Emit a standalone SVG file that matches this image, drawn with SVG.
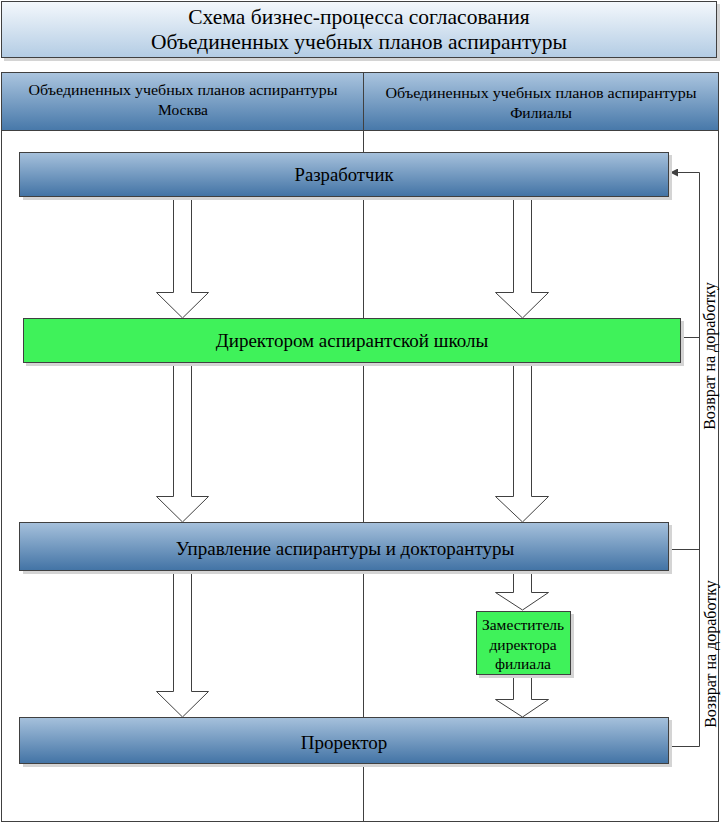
<svg xmlns="http://www.w3.org/2000/svg" width="721" height="824" viewBox="0 0 721 824" font-family="'Liberation Serif', 'Times New Roman', serif">
<defs>
<linearGradient id="gTitle" x1="0" y1="0" x2="0" y2="1"><stop offset="0" stop-color="#f4f8fc"/><stop offset="1" stop-color="#b3cce4"/></linearGradient>
<linearGradient id="gHead" x1="0" y1="0" x2="0" y2="1"><stop offset="0" stop-color="#abc5df"/><stop offset="1" stop-color="#4778a9"/></linearGradient>
<linearGradient id="gBlue" x1="0" y1="0" x2="0" y2="1"><stop offset="0" stop-color="#a6c1dc"/><stop offset="1" stop-color="#4273a5"/></linearGradient>
<marker id="ah" markerWidth="8" markerHeight="8" refX="7" refY="4" orient="auto" markerUnits="userSpaceOnUse"><path d="M0,0 L8,4 L0,8 z" fill="#404040"/></marker>
</defs>
<style>
text{fill:#000;text-anchor:middle}
.box{stroke:#404040;stroke-width:1}
.sh{fill:#d4d4d4}
.blk{fill:#fff;stroke:#404040;stroke-width:1}
.ln{fill:none;stroke:#404040;stroke-width:1}
</style>
<rect width="721" height="824" fill="#fff"/>
<g id="title">
<rect class="sh" x="4" y="4" width="716" height="57"/>
<rect class="box" x="1.5" y="1.5" width="715" height="56" fill="url(#gTitle)"/>
<text x="359" y="24" font-size="21.5" font-family="'Liberation Serif', serif">Схема бизнес-процесса согласования</text>
<text x="359" y="49" font-size="21.5" font-family="'Liberation Serif', serif">Объединенных учебных планов аспирантуры</text>
</g>
<g id="pool">
<rect class="box" x="1.5" y="72.5" width="717" height="58" fill="url(#gHead)"/>
<rect class="box" x="1.5" y="130.5" width="717" height="691" fill="none"/>
<line class="ln" x1="363.5" y1="72.5" x2="363.5" y2="821.5"/>
<text x="183" y="95" font-size="15.5" font-family="'Liberation Serif', serif" textLength="309" lengthAdjust="spacingAndGlyphs">Объединенных учебных планов аспирантуры</text>
<text x="183" y="115" font-size="15.5" font-family="'Liberation Serif', serif">Москва</text>
<text x="541" y="98" font-size="15.5" font-family="'Liberation Serif', serif" textLength="311" lengthAdjust="spacingAndGlyphs">Объединенных учебных планов аспирантуры</text>
<text x="541" y="118" font-size="15.5" font-family="'Liberation Serif', serif">Филиалы</text>
</g>
<g id="connectors">
<path class="blk" d="M173.5,197 V292.5 H156.5 L182.5,318 L208.5,292.5 H191.5 V197"/>
<path class="blk" d="M513.5,197 V292.5 H495.5 L522.5,318 L548.5,292.5 H531.5 V197"/>
<path class="blk" d="M173.5,363 V496.5 H156.5 L182.5,522 L208.5,496.5 H191.5 V363"/>
<path class="blk" d="M513.5,363 V496.5 H495.5 L522.5,522 L548.5,496.5 H531.5 V363"/>
<path class="blk" d="M173.5,571 V691.5 H156.5 L182.5,717 L208.5,691.5 H191.5 V571"/>
<path class="blk" d="M513.5,571 V592.5 H495.5 L522.5,610 L548.5,592.5 H531.5 V571"/>
<path class="blk" d="M513.5,675 V699.5 H495.5 L522.5,717 L548.5,699.5 H531.5 V675"/>
<path class="ln" d="M681,337.5 H699.5 M669,549.5 H699.5 M669,746.5 H699.5 V172.5 H671" marker-end="url(#ah)"/>
<text transform="translate(714.5,356) rotate(-90)" font-size="16" font-family="'Liberation Serif', serif">Возврат на доработку</text>
<text transform="translate(715.5,654) rotate(-90)" font-size="16" font-family="'Liberation Serif', serif">Возврат на доработку</text>
</g>
<g id="n1">
<rect class="sh" x="23" y="155" width="649" height="45"/>
<rect class="box" x="19.5" y="152.5" width="649" height="44" fill="url(#gBlue)"/>
<text x="344" y="180.5" font-size="18.7" font-family="'Liberation Serif', serif">Разработчик</text>
</g>
<g id="n2">
<rect class="sh" x="26" y="321" width="658" height="45"/>
<rect class="box" x="23.5" y="318.5" width="657" height="44" fill="#3ff25a"/>
<text x="352" y="347" font-size="19" font-family="'Liberation Serif', serif">Директором аспирантской школы</text>
</g>
<g id="n3">
<rect class="sh" x="23" y="525" width="649" height="49"/>
<rect class="box" x="19.5" y="522.5" width="649" height="48" fill="url(#gBlue)"/>
<text x="345" y="554.5" font-size="19" font-family="'Liberation Serif', serif">Управление аспирантуры и докторантуры</text>
</g>
<g id="n4">
<rect class="sh" x="479" y="614" width="95" height="64"/>
<rect class="box" x="476.5" y="611.5" width="94" height="63" fill="#3ff25a"/>
<text x="523" y="629.5" font-size="15.5" font-family="'Liberation Serif', serif">Заместитель</text>
<text x="523" y="649.5" font-size="15.5" font-family="'Liberation Serif', serif">директора</text>
<text x="523" y="668.5" font-size="15.5" font-family="'Liberation Serif', serif">филиала</text>
</g>
<g id="n5">
<rect class="sh" x="23" y="720" width="649" height="47"/>
<rect class="box" x="19.5" y="717.5" width="649" height="46" fill="url(#gBlue)"/>
<text x="344" y="748.5" font-size="19" font-family="'Liberation Serif', serif">Проректор</text>
</g>
</svg>
